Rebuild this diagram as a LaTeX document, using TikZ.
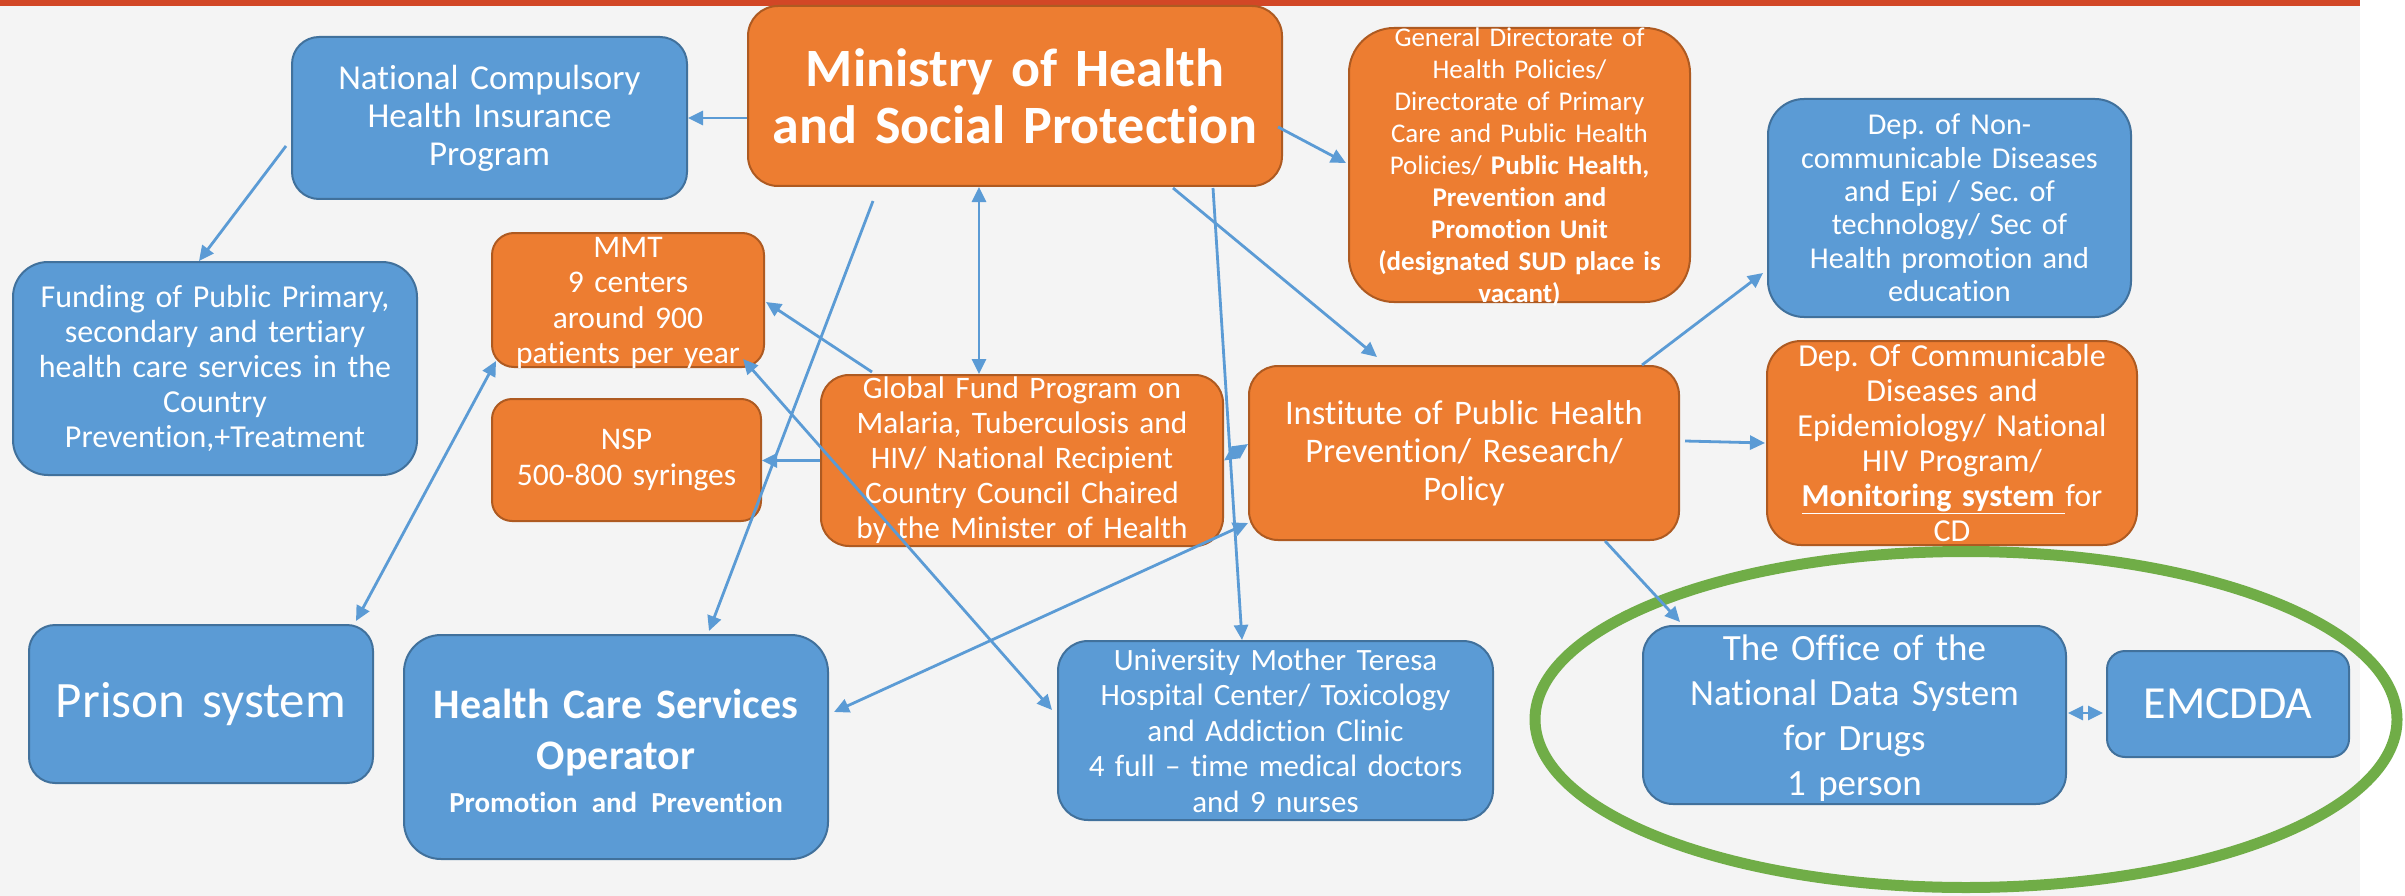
\documentclass[tikz,border=0pt]{standalone}
\usepackage{fontspec}
\setmainfont{Carlito}[Ligatures=NoCommon]
\usetikzlibrary{arrows.meta,calc}
\definecolor{ofill}{HTML}{ED7D31}
\definecolor{odraw}{HTML}{AE5A21}
\definecolor{bfill}{HTML}{5B9BD5}
\definecolor{bdraw}{HTML}{41719C}
\definecolor{lineblue}{HTML}{5B9BD5}
\definecolor{bgray}{HTML}{F4F4F4}
\definecolor{topbar}{HTML}{D24726}
\definecolor{ringgreen}{HTML}{70AD47}
\tikzset{
  obox/.style={rectangle, fill=ofill, draw=odraw, line width=2pt, inner sep=0pt},
  bbox/.style={rectangle, fill=bfill, draw=bdraw, line width=2pt, inner sep=0pt},
  txt/.style={text=white, align=center, inner sep=0pt},
  tip/.tip={Triangle[length=15pt,width=14pt]},
  conn/.style={draw=lineblue, line width=2.8pt, -tip},
  dconn/.style={draw=lineblue, line width=2.8pt, tip-tip},
}
\newcommand{\fs}[2]{\fontsize{#1}{#2}\selectfont}
\frenchspacing
\begin{document}
\begin{tikzpicture}[x=1pt,y=-1pt]
\useasboundingbox (0,0) rectangle (2405,896);
\fill[white] (0,0) rectangle (2405,896);
\fill[bgray] (0,0) rectangle (2360,896);
\fill[topbar] (0,0) rectangle (2360,6);

% boxes
\node[bbox, minimum width=395, minimum height=162, rounded corners=27] (nchip) at (489.5,118) {};
\node[txt, text width=395, font=\fs{35}{38}\frenchspacing] (nchip-t) at (nchip) {National Compulsory\\Health Insurance\\Program};

\node[obox, minimum width=534, minimum height=180, rounded corners=30] (min) at (1015,96) {};
\node[txt, text width=560, font=\fs{54}{57}\bfseries\frenchspacing] (min-t) at (min) {Ministry of Health\\and Social Protection};

\node[obox, minimum width=341, minimum height=274, rounded corners=45] (gen) at (1519.5,165) {};
\node[txt, text width=341, font=\fs{27}{32}\frenchspacing] (gen-t) at ($(gen)+(0,2)$) {General Directorate of\\Health Policies/\\Directorate of Primary\\Care and Public Health\\Policies/ \textbf{Public Health,}\\\textbf{Prevention and}\\\textbf{Promotion Unit}\\\textbf{(designated SUD place is}\\\textbf{vacant)}};

\node[bbox, minimum width=363, minimum height=218, rounded corners=36] (ncd) at (1949.5,208) {};
\node[txt, text width=363, font=\fs{30.3}{33.4}\frenchspacing] (ncd-t) at (ncd) {Dep. of Non-\\communicable Diseases\\and Epi / Sec. of\\technology/ Sec of\\Health promotion and\\education};

\node[obox, minimum width=370, minimum height=204, rounded corners=34] (cd) at (1952,443) {};
\node[txt, text width=370, font=\fs{32}{35}\frenchspacing] (cd-t) at (cd) {Dep. Of Communicable\\Diseases and\\Epidemiology/ National\\HIV Program/\\\underline{\textbf{Monitoring system} }for\\CD};

\node[bbox, minimum width=404, minimum height=213, rounded corners=35] (fund) at (215,368.5) {};
\node[txt, text width=404, font=\fs{32}{35}\frenchspacing] (fund-t) at (fund) {Funding of Public Primary,\\secondary and tertiary\\health care services in the\\Country\\Prevention,+Treatment};

\node[obox, minimum width=272, minimum height=134, rounded corners=22] (mmt) at (628,300) {};
\node[txt, text width=272, font=\fs{31.5}{35.5}\frenchspacing] (mmt-t) at ($(mmt)+(0,3)$) {MMT\\9 centers\\around 900\\patients per year};

\node[obox, minimum width=269, minimum height=122, rounded corners=20] (nsp) at (626.5,460) {};
\node[txt, text width=269, font=\fs{31.5}{36}\frenchspacing] (nsp-t) at (nsp) {NSP\\500-800 syringes};

\node[obox, minimum width=402, minimum height=171, rounded corners=28] (gf) at (1022,460.5) {};
\node[txt, text width=402, font=\fs{31.3}{35}\frenchspacing] (gf-t) at (gf) {Global Fund Program on\\Malaria, Tuberculosis and\\HIV/ National Recipient\\Country Council Chaired\\by the Minister of Health};

\node[obox, minimum width=430, minimum height=174, rounded corners=29] (ins) at (1464,453) {};
\node[txt, text width=430, font=\fs{34.5}{38}\frenchspacing] (ins-t) at (ins) {Institute of Public Health\\Prevention/ Research/\\Policy};

\node[bbox, minimum width=344, minimum height=158, rounded corners=26] (pri) at (201,704) {};
\node[txt, text width=344, font=\fs{51}{60}\frenchspacing] (pri-t) at (pri) {Prison system};

\node[bbox, minimum width=424, minimum height=224, rounded corners=37] (hcs) at (616,747) {};
\node[txt, text width=424, font=\fs{42}{51}\bfseries\frenchspacing] (hcs-t) at ($(hcs)+(0,4)$) {Health Care Services\\Operator\\[-8pt]{\fs{29}{35}Promotion and Prevention}};

\node[bbox, minimum width=435, minimum height=179, rounded corners=30] (uni) at (1275.5,730.5) {};
\node[txt, text width=435, font=\fs{31}{35.5}\frenchspacing] (uni-t) at (uni) {University Mother Teresa\\Hospital Center/ Toxicology\\and Addiction Clinic\\4 full – time medical doctors\\and 9 nurses};

\node[bbox, minimum width=423, minimum height=178, rounded corners=30] (off) at (1854.5,715) {};
\node[txt, text width=423, font=\fs{37}{45}\frenchspacing] (off-t) at ($(off)+(0,3)$) {The Office of the\\National Data System\\for Drugs\\1 person};

\node[bbox, minimum width=242, minimum height=106, rounded corners=18] (emc) at (2228,704) {};
\node[txt, text width=242, font=\fs{46}{50}] (emc-t) at (emc) {EMCDDA};

% ring
\draw[ringgreen, line width=11pt] (1966,719.5) ellipse [x radius=431, y radius=168];

% connectors
\draw[conn] (min.west |- nchip.east) -- (nchip.east);
\draw[conn] ($(nchip.west)+(-5,28)$) -- ($(fund.north)+(-16,0)$);
\draw[conn] ($(min.east)+(-5,31)$) -- ($(gen.west)+(-2,-2)$);
\draw[dconn] ($(min.south)+(-36,0)$) -- ($(gf.north)+(-43,0)$);
\draw[conn] ($(min.south)+(158,1)$) -- ($(ins.north)+(-87,-8)$);
\draw[conn] ($(min.south)+(198,1)$) -- ($(uni.north)+(-33.5,0)$);
\coordinate (gfree) at (873,201);
\draw[conn] (gfree) -- ($(hcs.north)+(93,-3)$);
\draw[conn] ($(gf.north west)+(52,-2)$) -- ($(mmt.east)+(1,2)$);
\draw[conn] (gf.west) -- (gf.west -| nsp.east);
\draw[dconn] ($(mmt.south east)+(-22,-9)$) -- ($(uni.west)+(-5,-20.5)$);
\draw[dconn] ($(mmt.south west)+(5,-7)$) -- ($(pri.north east)+(-18,-3)$);
\draw[dconn] (gf.east) -- ($(ins.west)+(0,-9)$);
\draw[dconn] ($(ins.south west)+(0,-18)$) -- ($(hcs.east)+(5,-35)$);
\draw[conn] ($(ins.north east)+(-38,0)$) -- ($(ncd.west)+(-4,65)$);
\draw[conn] ($(ins.east)+(5,-12)$) -- ($(cd.west)+(-1,0)$);
\draw[conn] ($(ins.south)+(141,0)$) -- ($(off.north west)+(38,-3)$);
\draw[dconn] ($(off.east)+(1,-2)$) -- ($(emc.west)+(-3,9)$);
\end{tikzpicture}
\end{document}
